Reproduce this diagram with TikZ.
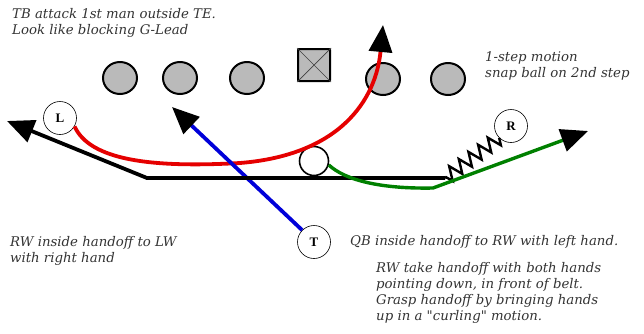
\documentclass[tikz,border=0pt]{standalone}
\usepackage{fontspec}
\setmainfont{DejaVu Serif}[Ligatures=TeXOff]
\newfontfamily\lblfont{Liberation Serif}
\usetikzlibrary{arrows.meta,decorations.pathmorphing,shapes.geometric}
\begin{document}
\begin{tikzpicture}[x=1pt,y=-1pt,
  lineman/.style={draw=black,line width=2pt,fill=black!27,ellipse,minimum width=34pt,minimum height=32pt,inner sep=0pt},
  centerbox/.style={draw=black,line width=2pt,fill=black!27,minimum size=32pt,inner sep=0pt,rounded corners=1pt},
  player/.style={draw=black,line width=0.6pt,circle,minimum size=33pt,inner sep=0pt,font=\lblfont\bfseries\fontsize{13}{13}\selectfont},
  qbstyle/.style={draw=black,line width=1.6pt,circle,minimum size=29pt,inner sep=0pt},
  note/.style={font=\itshape\fontsize{13.3}{16}\selectfont,text=black!80,align=left,inner sep=0pt,anchor=north west},
  route/.style={line width=3.8pt},
  bigtip/.style={-{Triangle[length=27pt,width=23pt,color=black]}}]
\useasboundingbox (0,0) rectangle (644,333);
% line
\node[lineman] (o1) at (120,78) {};
\node[lineman] (o2) at (180,78) {};
\node[lineman] (o3) at (247,78) {};
\node[centerbox] (c) at (314,65) {};
\draw[black!75,line width=0.7pt] (c.north west) -- (c.south east) (c.north east) -- (c.south west);
\node[lineman] (o4) at (383,79) {};
\node[lineman] (o5) at (448,79) {};
% backs
\node[player] (L) at (60,118) {L};
\node[player] (R) at (511,126) {R};
\node[player] (T) at (314,242) {T};
\node[qbstyle] (QB) at (314,161) {};
% free ends
\coordinate (ltip) at (7,121);
\coordinate (corner) at (147,178);
\coordinate (zz) at (445,178);
\coordinate (rtip) at (383,25);
\coordinate (redlow) at (240,163);
\coordinate (btip) at (172,107);
\coordinate (glow) at (433,188);
\coordinate (gtip) at (588,131);
% routes
\draw[route,red!90!black,bigtip] (L.-30) .. controls (90,160) and (150,168) .. (redlow)
   .. controls (340,155) and (376,100) .. (rtip);
\draw[route,blue!85!black,bigtip] (T.135) -- (btip);
\draw[line width=2.4pt,decorate,decoration={zigzag,segment length=12pt,amplitude=7pt}] (R.225) -- (zz);
\draw[route,black,bigtip,line join=miter] (zz) -- (corner) -- (ltip);
\draw[line width=3.4pt,green!50!black,bigtip] (QB.-15) .. controls (345,180) and (380,189) .. (glow) -- (gtip);
% notes
\node[note] (n1) at (12,8) {TB attack 1st man outside TE.\\Look like blocking G-Lead};
\node[note] (n2) at (485,51) {1-step motion\\snap ball on 2nd step};
\node[note] (n3) at (10,236) {RW inside handoff to LW\\with right hand};
\node[note] (n4) at (350,235) {QB inside handoff to RW with left hand.};
\node[note] (n5) at (376,262) {RW take handoff with both hands\\pointing down, in front of belt.\\Grasp handoff by bringing hands\\up in a "curling" motion.};
\end{tikzpicture}
\end{document}
